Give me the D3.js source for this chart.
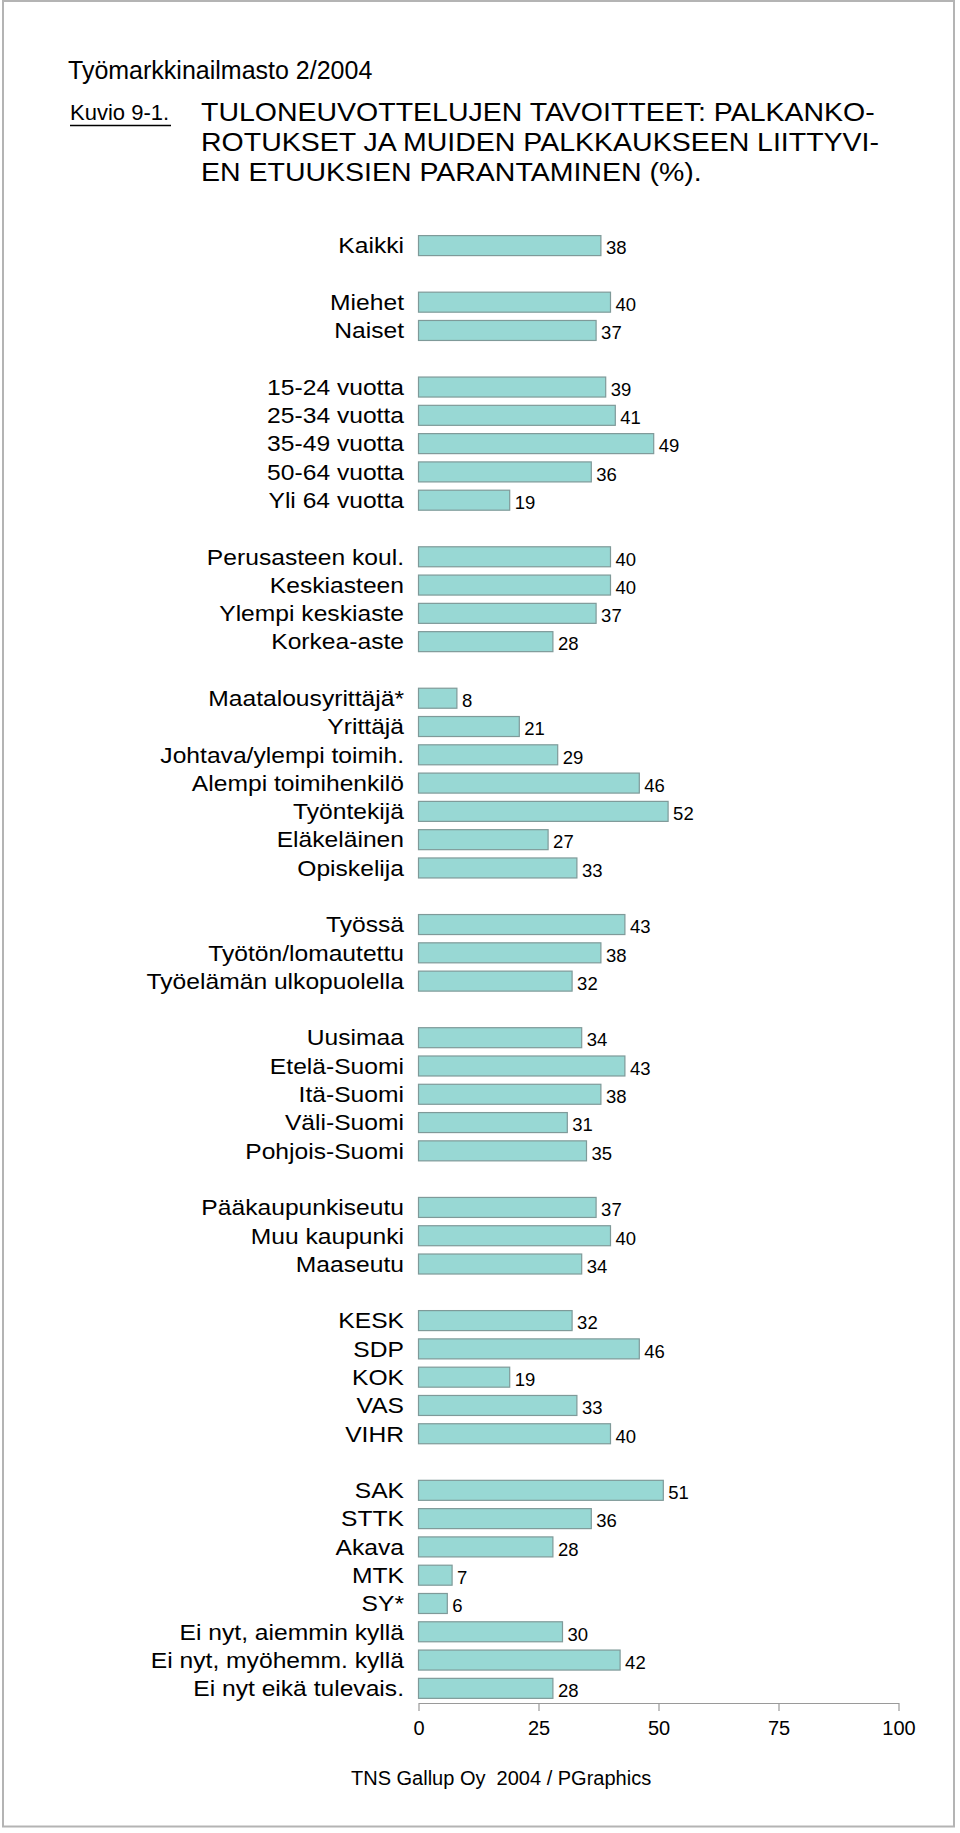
<!DOCTYPE html>
<html>
<head>
<meta charset="utf-8">
<script src="https://cdn.jsdelivr.net/npm/d3@7"></script>
<style>
  html, body { margin: 0; padding: 0; background: #fff; }
  svg { display: block; font-family: "Liberation Sans", Arial, sans-serif; }
</style>
</head>
<body>
<svg id="chart" width="960" height="1833"></svg>
<script>
// ---- data ----
const headerText = "Työmarkkinailmasto 2/2004";
const figureLabel = "Kuvio 9-1.";
const titleLines = [
  "TULONEUVOTTELUJEN TAVOITTEET: PALKANKO-",
  "ROTUKSET JA MUIDEN PALKKAUKSEEN LIITTYVI-",
  "EN ETUUKSIEN PARANTAMINEN (%)."
];
const footerText = "TNS Gallup Oy  2004 / PGraphics";

const categories = [
  "Kaikki",
  "Miehet", "Naiset",
  "15-24 vuotta", "25-34 vuotta", "35-49 vuotta", "50-64 vuotta", "Yli 64 vuotta",
  "Perusasteen koul.", "Keskiasteen", "Ylempi keskiaste", "Korkea-aste",
  "Maatalousyrittäjä*", "Yrittäjä", "Johtava/ylempi toimih.", "Alempi toimihenkilö", "Työntekijä", "Eläkeläinen", "Opiskelija",
  "Työssä", "Työtön/lomautettu", "Työelämän ulkopuolella",
  "Uusimaa", "Etelä-Suomi", "Itä-Suomi", "Väli-Suomi", "Pohjois-Suomi",
  "Pääkaupunkiseutu", "Muu kaupunki", "Maaseutu",
  "KESK", "SDP", "KOK", "VAS", "VIHR",
  "SAK", "STTK", "Akava", "MTK", "SY*", "Ei nyt, aiemmin kyllä", "Ei nyt, myöhemm. kyllä", "Ei nyt eikä tulevais."
];
const values = [
  38,
  40, 37,
  39, 41, 49, 36, 19,
  40, 40, 37, 28,
  8, 21, 29, 46, 52, 27, 33,
  43, 38, 32,
  34, 43, 38, 31, 35,
  37, 40, 34,
  32, 46, 19, 33, 40,
  51, 36, 28, 7, 6, 30, 42, 28
];
const groupSizes = [1, 2, 5, 4, 7, 3, 5, 3, 5, 8];
const xTicks = [0, 25, 50, 75, 100];

// ---- build rows (blank row between groups) ----
const rows = [];
let idx = 0, rowNo = 0;
groupSizes.forEach((n, g) => {
  for (let i = 0; i < n; i++) {
    rows.push({ label: categories[idx], value: values[idx], row: rowNo });
    idx++; rowNo++;
  }
  if (g < groupSizes.length - 1) rowNo++;
});
const totalRows = rowNo;

const svg = d3.select("#chart");

// frame
svg.append("rect")
  .attr("x", 3).attr("y", 1).attr("width", 951).attr("height", 1825.5)
  .attr("fill", "none").attr("stroke", "#b4b4b4").attr("stroke-width", 2);

// header
svg.append("text").attr("x", 68).attr("y", 79)
  .attr("font-size", 25).attr("fill", "#000").text(headerText);

svg.append("text").attr("x", 70).attr("y", 120)
  .attr("font-size", 22).attr("fill", "#000").text(figureLabel);
svg.append("line").attr("x1", 70).attr("x2", 171).attr("y1", 125.5).attr("y2", 125.5)
  .attr("stroke", "#000").attr("stroke-width", 1.5);

// title with slight horizontal stretch
const titleSize = 26;
const titleG = svg.append("g");
const tl = titleG.selectAll("g.tl").data(titleLines).join("g")
  .attr("class", "tl");
tl.append("text").attr("font-size", titleSize).attr("fill", "#000").text(d => d);
const firstW = tl.select("text").node().getComputedTextLength();
const titleK = 674 / firstW;
tl.attr("transform", (d, i) => `translate(201, ${121 + i * 30}) scale(${titleK},1)`);

// scales
const x = d3.scaleLinear().domain([0, 100]).range([418.5, 898.5]);
const pIn = 0.293;
const y = d3.scaleBand()
  .domain(d3.range(totalRows))
  .range([231.45, 1702.5])
  .paddingInner(pIn)
  .paddingOuter(pIn / 2);

// bars
svg.append("g").selectAll("rect").data(rows).join("rect")
  .attr("x", x(0))
  .attr("y", d => y(d.row))
  .attr("width", d => x(d.value) - x(0))
  .attr("height", y.bandwidth())
  .attr("fill", "#98d8d4")
  .attr("stroke", "#7f9a99")
  .attr("stroke-width", 1.2);

// category labels (stretched horizontally)
const labK = 1.12;
svg.append("g").selectAll("g").data(rows).join("g")
  .attr("transform", d => `translate(404, ${y(d.row) + y.bandwidth() / 2 + 7.8}) scale(${labK},1)`)
  .append("text")
  .attr("text-anchor", "end")
  .attr("font-size", 22)
  .attr("fill", "#000")
  .text(d => d.label);

// value labels
svg.append("g").selectAll("text").data(rows).join("text")
  .attr("x", d => x(d.value) + 5)
  .attr("y", d => y(d.row) + y.bandwidth() - 1.2)
  .attr("font-size", 18.5)
  .attr("fill", "#000")
  .text(d => d.value);

// axis
const axisY = 1703;
const axis = svg.append("g")
  .attr("transform", `translate(0, ${axisY})`)
  .call(d3.axisBottom(x).tickValues(xTicks).tickSize(8).tickSizeOuter(0).tickPadding(10));
axis.select(".domain").attr("stroke", "#9a9a9a").attr("stroke-width", 1.2);
axis.selectAll(".tick line").attr("stroke", "#9a9a9a").attr("stroke-width", 1.2);
axis.selectAll(".tick text")
  .attr("font-size", 20)
  .attr("font-family", "'Liberation Sans', Arial, sans-serif")
  .attr("fill", "#000");

// footer
svg.append("text").attr("x", 351).attr("y", 1785)
  .attr("font-size", 20).attr("fill", "#000")
  .style("white-space", "pre")
  .text(footerText);
</script>
</body>
</html>
